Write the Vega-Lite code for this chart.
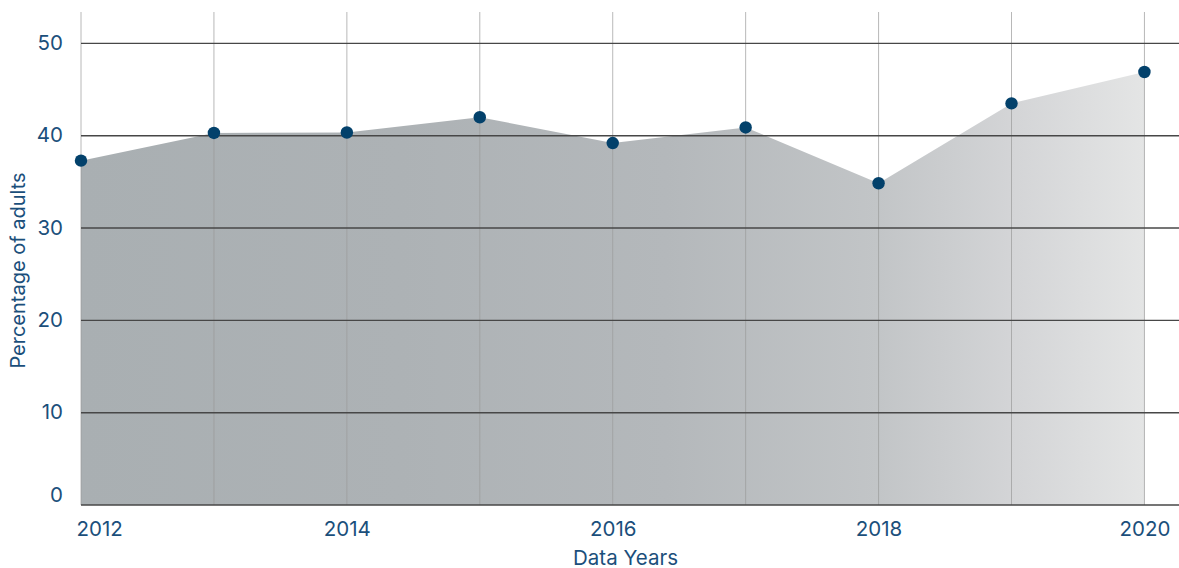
{
  "$schema": "https://vega.github.io/schema/vega-lite/v6.json",
  "autosize": {"type": "none"},
  "width": 1098,
  "height": 493,
  "padding": {"left": 81, "top": 12, "right": 0, "bottom": 63},
  "background": "#ffffff",
  "config": {
    "view": {"stroke": null},
    "font": "Inter",
    "axis": {"labelFont": "Inter", "titleFont": "Inter", "labelColor": "#1b4f7b", "titleColor": "#1b4f7b", "labelFontWeight": "normal", "titleFontWeight": "normal"}
  },
  "datasets": {
    "series": [
      {"year": 2012, "pct": 37.3},
      {"year": 2013, "pct": 40.3},
      {"year": 2014, "pct": 40.35},
      {"year": 2015, "pct": 42.0},
      {"year": 2016, "pct": 39.2},
      {"year": 2017, "pct": 40.9},
      {"year": 2018, "pct": 34.85},
      {"year": 2019, "pct": 43.5},
      {"year": 2020, "pct": 46.9}
    ],
    "gridlines": [
      {"level": 0}, {"level": 10}, {"level": 20}, {"level": 30}, {"level": 40}, {"level": 50}
    ]
  },
  "layer": [
    {
      "data": {"name": "series"},
      "mark": {
        "type": "area",
        "fill": {
          "gradient": "linear", "x1": 0, "y1": 0, "x2": 1, "y2": 0,
          "stops": [
            {"offset": 0, "color": "#a9afb2"},
            {"offset": 0.3, "color": "#adb2b5"},
            {"offset": 0.55, "color": "#b4b8bb"},
            {"offset": 0.75, "color": "#c2c5c7"},
            {"offset": 0.88, "color": "#d4d5d7"},
            {"offset": 1, "color": "#e4e5e5"}
          ]
        },
        "stroke": null
      },
      "encoding": {
        "x": {
          "field": "year", "type": "quantitative",
          "scale": {"domain": [2012, 2020.26], "nice": false, "zero": false},
          "axis": {
            "values": [2012, 2014, 2016, 2018, 2020],
            "format": "d",
            "grid": false, "domain": false, "ticks": false,
            "labelFontSize": 20.5, "labelPadding": 14,
            "labelFlush": true, "labelFlushOffset": 5,
            "title": "Data Years", "titleFontSize": 20.5,
            "titleX": 544, "titleY": 59, "titleBaseline": "alphabetic", "titleAlign": "center"
          }
        },
        "y": {
          "field": "pct", "type": "quantitative",
          "scale": {"domain": [0, 53.4], "nice": false},
          "axis": {
            "values": [0, 10, 20, 30, 40, 50],
            "grid": false, "domain": false, "ticks": false,
            "labelFontSize": 20.5, "labelPadding": 18.5,
            "labelFlush": true, "labelFlushOffset": 0,
            "title": "Percentage of adults", "titleFontSize": 20,
            "titleX": -63, "titleY": 258, "titleAngle": -90, "titleBaseline": "middle", "titleAlign": "center"
          }
        }
      }
    },
    {
      "data": {"name": "series"},
      "mark": {"type": "rule", "stroke": "#9a9a9a", "strokeOpacity": 0.7, "strokeWidth": 1},
      "encoding": {
        "x": {"field": "year", "type": "quantitative"}
      }
    },
    {
      "data": {"name": "gridlines"},
      "mark": {"type": "rule", "stroke": "#474747", "strokeWidth": 1.4},
      "encoding": {
        "y": {"field": "level", "type": "quantitative"}
      }
    },
    {
      "data": {"name": "series"},
      "mark": {"type": "point", "filled": true, "shape": "circle", "size": 155, "color": "#03416b", "opacity": 1},
      "encoding": {
        "x": {"field": "year", "type": "quantitative"},
        "y": {"field": "pct", "type": "quantitative"}
      }
    }
  ]
}
